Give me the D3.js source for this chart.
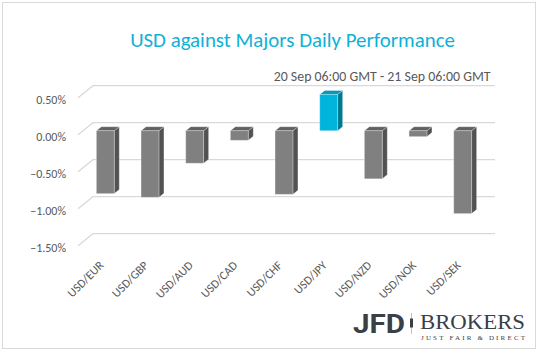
<!DOCTYPE html>
<html><head><meta charset="utf-8">
<script src="https://cdn.jsdelivr.net/npm/d3@7"></script>
<style>body{margin:0;background:#fff}svg{display:block}</style>
</head><body>
<svg id="c" width="538" height="351"></svg>
<script>
const categories = ["USD/EUR","USD/GBP","USD/AUD","USD/CAD","USD/CHF","USD/JPY","USD/NZD","USD/NOK","USD/SEK"];
const values = [-0.85, -0.90, -0.44, -0.13, -0.86, 0.49, -0.65, -0.08, -1.12];
const yTicks = [0.5, 0, -0.5, -1.0, -1.5];
const titleText = "USD against Majors Daily Performance";
const subtitleText = "20 Sep 06:00 GMT - 21 Sep 06:00 GMT";

const svg = d3.select("#c");
svg.append("rect").attr("x",2.5).attr("y",2.5).attr("width",533).attr("height",346)
  .attr("fill","#fff").attr("stroke","#d9d9d9").attr("stroke-width",1);

const x = d3.scaleBand().domain(categories).range([78,480]).paddingInner(0.6).paddingOuter(0.3);
const y = d3.scaleLinear().domain([-1.5,0.5]).range([245.7,97.7]);
const DX = 15, DY = -12;
const bf = {dx:5, dy:-4}, bb = {dx:10, dy:-8};
const FONT = "Carlito, Calibri, 'Open Sans', sans-serif";

function fitText(sel, target, maxSize){
  sel.style("font-size", maxSize+"px");
  const w = sel.node().getComputedTextLength();
  sel.style("font-size", (maxSize*target/w)+"px");
}

const t = svg.append("text").attr("x",292.5).attr("y",47).attr("text-anchor","middle")
  .attr("fill","#0fb1d8").style("font-family",FONT).text(titleText);
fitText(t, 325, 20);
const st = svg.append("text").attr("x",490.5).attr("y",81).attr("text-anchor","end")
  .attr("fill","#595959").style("font-family",FONT).text(subtitleText);
fitText(st, 217, 12);

const g = svg.append("g");
yTicks.forEach(v=>{
  const yy = y(v);
  g.append("path").attr("d",`M${x.range()[0]},${yy}L${x.range()[0]+DX},${yy+DY}L${x.range()[1]+DX},${yy+DY}`)
    .attr("fill","none").attr("stroke","#d9d9d9").attr("stroke-width",1.3);
});
yTicks.forEach(v=>{
  svg.append("text").attr("x",66).attr("y",y(v)+2.5).attr("dy","0.35em").attr("text-anchor","end")
    .attr("fill","#595959").style("font-family",FONT).style("font-size","12px")
    .text(d3.format(".2f")(v)+"%");
});

categories.forEach((c,i)=>{
  const v = values[i];
  const pos = v>0;
  const cols = pos ? {f:"#00b4dc", s:"#00788f", t:"#0a98b8"} : {f:"#808080", s:"#525252", t:"#616161"};
  const x0 = x(c)+bf.dx, x1 = x(c)+x.bandwidth()+bf.dx;
  const yt = Math.min(y(0),y(v))+bf.dy, yb = Math.max(y(0),y(v))+bf.dy;
  const ddx = bb.dx-bf.dx, ddy = bb.dy-bf.dy;
  const gb = svg.append("g").attr("stroke","rgba(255,255,255,0.45)").attr("stroke-width",0.6).attr("stroke-linejoin","round");
  gb.append("path").attr("d",`M${x1},${yt}L${x1+ddx},${yt+ddy}L${x1+ddx},${yb+ddy}L${x1},${yb}Z`).attr("fill",cols.s);
  gb.append("path").attr("d",`M${x0},${yt}L${x0+ddx},${yt+ddy}L${x1+ddx},${yt+ddy}L${x1},${yt}Z`).attr("fill",cols.t);
  gb.append("rect").attr("x",x0).attr("y",yt).attr("width",x1-x0).attr("height",yb-yt).attr("fill",cols.f);
});

categories.forEach(c=>{
  const cx = x(c)+x.bandwidth()/2;
  svg.append("text").attr("transform",`translate(${cx+4},${266}) rotate(-45)`).attr("text-anchor","end")
    .attr("fill","#595959").style("font-family",FONT).style("font-size","12px").text(c);
});

const lg = svg.append("g");
lg.append("text").attr("x",353).attr("y",332.5).attr("fill","#3b4047")
  .style("font-family","Roboto, sans-serif").style("font-weight","bold").style("font-size","25px")
  .attr("textLength",52).attr("lengthAdjust","spacingAndGlyphs").text("JFD");
lg.append("line").attr("x1",411.5).attr("x2",411.5).attr("y1",313).attr("y2",334).attr("stroke","#b0b3b7").attr("stroke-width",0.8);
lg.append("rect").attr("x",410).attr("y",318.5).attr("width",3).attr("height",9).attr("fill","#3b4047");
lg.append("text").attr("x",420).attr("y",328.5).attr("fill","#3b4047")
  .style("font-family","'Liberation Serif', serif").style("font-size","20px")
  .attr("textLength",105).attr("lengthAdjust","spacingAndGlyphs").text("BROKERS");
lg.append("text").attr("x",421).attr("y",339.5).attr("fill","#3b4047")
  .style("font-family","'Liberation Serif', serif").style("font-size","7px")
  .attr("textLength",104).attr("lengthAdjust","spacing").text("JUST FAIR & DIRECT");
</script>
</body></html>
